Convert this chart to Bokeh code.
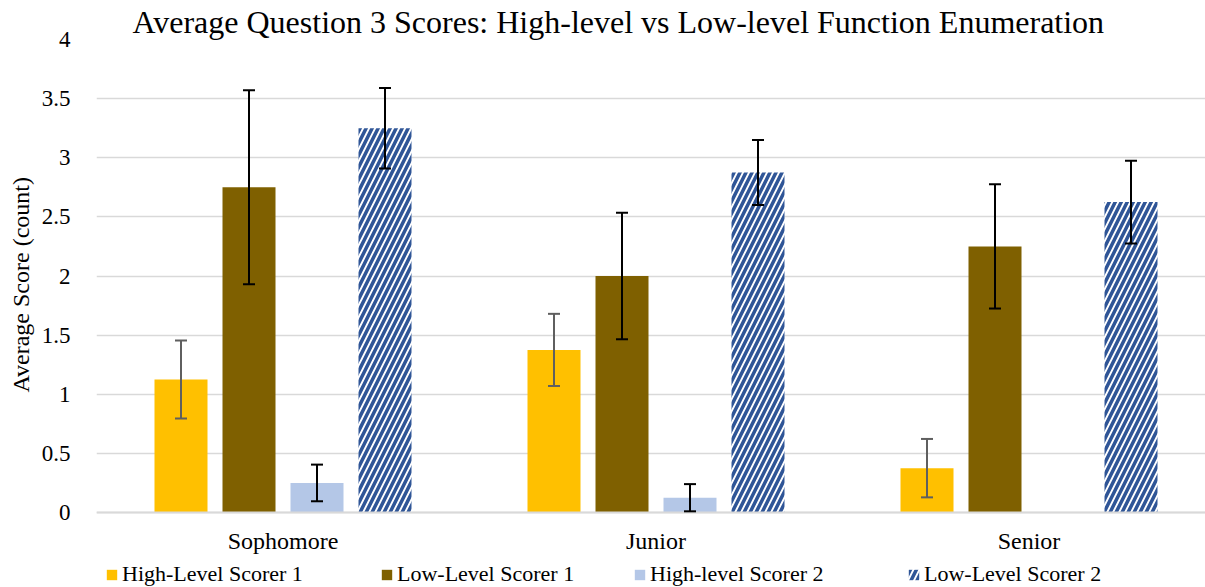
from bokeh.plotting import figure
from bokeh.models import (ColumnDataSource, Range1d, FixedTicker, Whisker, TeeHead,
                          Legend, LegendItem, NumeralTickFormatter, Title)
from bokeh.embed import file_html
from bokeh.resources import INLINE

# ---- data ----
categories = ["Sophomore", "Junior", "Senior"]
series_names = ["High-Level Scorer 1", "Low-Level Scorer 1", "High-level Scorer 2", "Low-Level Scorer 2"]
high_scorer1 = [1.125, 1.375, 0.375]
high_scorer1_err = [0.33, 0.305, 0.247]
low_scorer1 = [2.75, 2.0, 2.25]
low_scorer1_err = [0.82, 0.535, 0.525]
high_scorer2 = [0.25, 0.125, 0.0]
high_scorer2_err = [0.155, 0.115, float("nan")]
low_scorer2 = [3.25, 2.875, 2.625]
low_scorer2_err = [0.34, 0.275, 0.35]
y_ticks = [0, 0.5, 1, 1.5, 2, 2.5, 3, 3.5, 4]

FONT = "Liberation Serif"
W, H = 1205, 587
LEFT, TOP, BOTTOM = 95, 39, 75
CAT_PX = 373.0
PX_PER_UNIT = (H - TOP - BOTTOM) / 4.0

p = figure(frame_width=W - LEFT, frame_height=H - TOP,
           output_backend="svg", toolbar_location=None,
           x_range=Range1d(0, (W - LEFT) / CAT_PX),
           y_range=Range1d(-BOTTOM / PX_PER_UNIT, 4),
           min_border_left=LEFT, min_border_right=0, min_border_top=TOP,
           min_border_bottom=0)
p.outline_line_color = None

p.title.text = "Average Question 3 Scores: High-level vs Low-level Function Enumeration"
p.title.text_font = FONT
p.title.text_font_style = "normal"
p.title.text_font_size = "32px"
p.title.text_color = "#000000"
p.title.align = "left"
p.title.offset = 36
p.title.standoff = 0

centers = [i + 0.5 for i in range(len(categories))]
step = 68 / CAT_PX
offsets = [-1.5 * step, -0.5 * step, 0.5 * step, 1.5 * step]
bar_w = 53 / CAT_PX

vals = [high_scorer1, low_scorer1, high_scorer2, low_scorer2]
errs = [high_scorer1_err, low_scorer1_err, high_scorer2_err, low_scorer2_err]
fills = ["#FFC000", "#7F6000", "#B4C7E7", "white"]
err_colors = ["#5f5f5f", "#000000", "#000000", "#000000"]
legend_x = [9, 284, 537, 811]

for k in range(4):
    xs = [c + offsets[k] for c in centers]
    src = ColumnDataSource(dict(
        x=xs, top=vals[k],
        upper=[v + e for v, e in zip(vals[k], errs[k])],
        lower=[v - e for v, e in zip(vals[k], errs[k])],
    ))
    if k == 3:
        r = p.vbar(x="x", top="top", width=bar_w, source=src, fill_color="white",
                   line_color=None, hatch_pattern="/", hatch_color="#2F5597",
                   hatch_scale=12, hatch_weight=3.5)
    else:
        r = p.vbar(x="x", top="top", width=bar_w, source=src, fill_color=fills[k],
                   line_color=None)
    wk = Whisker(source=src, base="x", upper="upper", lower="lower",
                 line_color=err_colors[k], line_width=2, level="overlay",
                 upper_head=TeeHead(size=12, line_color=err_colors[k], line_width=2),
                 lower_head=TeeHead(size=12, line_color=err_colors[k], line_width=2))
    p.add_layout(wk)
    lg = Legend(items=[LegendItem(label=series_names[k], renderers=[r])],
                orientation="horizontal", location=(legend_x[k], 0),
                label_text_font=FONT, label_text_font_size="22px",
                label_text_color="#000000", glyph_width=13, glyph_height=13,
                label_standoff=4, spacing=0, padding=0, margin=0,
                border_line_color=None, background_fill_alpha=0)
    p.add_layout(lg)

# axes
p.xaxis.fixed_location = 0
p.xaxis.ticker = FixedTicker(ticks=centers)
p.xaxis.major_label_overrides = {c: name for c, name in zip(centers, categories)}
p.xaxis.major_tick_line_color = None
p.xaxis.minor_tick_line_color = None
p.xaxis.axis_line_color = "#d9d9d9"
p.xaxis.axis_line_width = 2
p.xaxis.major_label_text_font = FONT
p.xaxis.major_label_text_font_size = "24px"
p.xaxis.major_label_text_color = "#000000"
p.xaxis.major_label_standoff = 9

p.yaxis.ticker = FixedTicker(ticks=y_ticks)
p.yaxis.formatter = NumeralTickFormatter(format="0.[0]")
p.yaxis.major_tick_line_color = None
p.yaxis.minor_tick_line_color = None
p.yaxis.axis_line_color = None
p.yaxis.major_label_text_font = FONT
p.yaxis.major_label_text_font_size = "23px"
p.yaxis.major_label_text_color = "#000000"
p.yaxis.major_label_standoff = 20

# y-axis title (kept centred on the 0..4 value span, not on the whole frame)
ytitle = Title(text="Average Score (count)", align="left", offset=195,
               text_font=FONT, text_font_style="normal", text_font_size="24px",
               text_color="#000000", standoff=10)
p.add_layout(ytitle, "left")

p.xgrid.grid_line_color = None
p.ygrid.grid_line_color = "#d9d9d9"
p.ygrid.grid_line_width = 1.5

open("out.html", "w").write(file_html(p, INLINE))
